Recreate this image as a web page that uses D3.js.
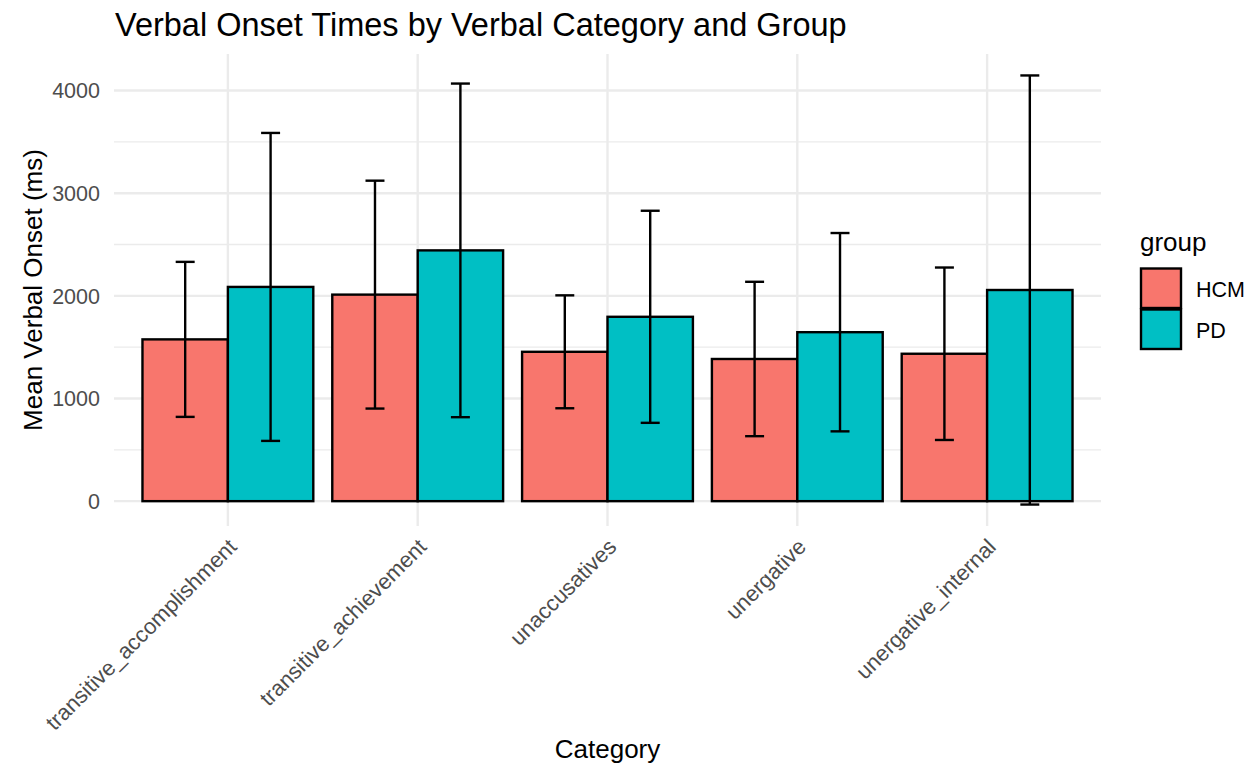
<!DOCTYPE html>
<html>
<head>
<meta charset="utf-8">
<script src="https://cdn.jsdelivr.net/npm/d3@7"></script>
<style>
  html, body { margin: 0; padding: 0; background: #fff; }
  svg { display: block; font-family: "Liberation Sans", Arial, Helvetica, sans-serif; }
</style>
</head>
<body>
<svg id="chart" width="1255" height="763"></svg>
<script>
// Verbal categories on the x axis
const categories = [
  "transitive_accomplishment",
  "transitive_achievement",
  "unaccusatives",
  "unergative",
  "unergative_internal"
];
const groups = ["HCM", "PD"];

// Mean verbal onset (ms) per category
const meanHCM = [1576, 2012, 1455, 1385, 1436];
const meanPD  = [2087, 2443, 1796, 1646, 2057];

// Standard deviation (ms) used for the error bars
const sdHCM = [755, 1110, 550, 752, 840];
const sdPD  = [1500, 1625, 1033, 966, 2090];

const yTicks = [0, 1000, 2000, 3000, 4000];

const colors = { HCM: "#F8766D", PD: "#00BFC4" };

const rows = [];
categories.forEach((c, i) => {
  rows.push({ category: c, group: "HCM", mean: meanHCM[i], sd: sdHCM[i] });
  rows.push({ category: c, group: "PD", mean: meanPD[i], sd: sdPD[i] });
});

const svg = d3.select("#chart");
const panel = { left: 114, right: 1101, top: 54, bottom: 526 };

// Discrete x positions with 0.6 units of padding on each side
const x = d3.scalePoint()
  .domain(categories)
  .range([panel.left, panel.right])
  .padding(0.6);
const step = x.step();
const center = c => x(c);

// Bars dodged within 0.9 of a category step
const dodgeWidth = 0.9 * step;
const xg = d3.scaleBand().domain(groups).range([-dodgeWidth / 2, dodgeWidth / 2]).padding(0);

const lo = d3.min(rows, d => d.mean - d.sd);
const hi = d3.max(rows, d => d.mean + d.sd);
const yMin = Math.min(0, lo), yMax = hi;
const pad = (yMax - yMin) * 0.05;
const y = d3.scaleLinear().domain([yMin - pad, yMax + pad]).range([panel.bottom, panel.top]);

// Grid lines
const grid = svg.append("g");
const minorTicks = d3.range(500, yMax + pad, 1000).filter(v => v > yMin - pad);
grid.selectAll("line.minor").data(minorTicks).join("line")
  .attr("x1", panel.left).attr("x2", panel.right)
  .attr("y1", d => y(d)).attr("y2", d => y(d))
  .attr("stroke", "#EBEBEB").attr("stroke-width", 1.3);
grid.selectAll("line.major").data(yTicks).join("line")
  .attr("x1", panel.left).attr("x2", panel.right)
  .attr("y1", d => y(d)).attr("y2", d => y(d))
  .attr("stroke", "#EBEBEB").attr("stroke-width", 2.4);
grid.selectAll("line.vmajor").data(categories).join("line")
  .attr("x1", d => center(d)).attr("x2", d => center(d))
  .attr("y1", panel.top).attr("y2", panel.bottom)
  .attr("stroke", "#EBEBEB").attr("stroke-width", 2.4);

// Bars
svg.append("g").selectAll("rect").data(rows).join("rect")
  .attr("x", d => center(d.category) + xg(d.group))
  .attr("width", xg.bandwidth())
  .attr("y", d => y(d.mean))
  .attr("height", d => y(0) - y(d.mean))
  .attr("fill", d => colors[d.group])
  .attr("stroke", "#000").attr("stroke-width", 2.4);

// Error bars (mean ± sd)
const capHalf = 0.05 * step;
const eb = svg.append("g").attr("stroke", "#000").attr("stroke-width", 2.4).attr("fill", "none");
rows.forEach(d => {
  const cx = center(d.category) + xg(d.group) + xg.bandwidth() / 2;
  const y1 = y(d.mean + d.sd), y2 = y(d.mean - d.sd);
  eb.append("line").attr("x1", cx).attr("x2", cx).attr("y1", y1).attr("y2", y2);
  eb.append("line").attr("x1", cx - capHalf).attr("x2", cx + capHalf).attr("y1", y1).attr("y2", y1);
  eb.append("line").attr("x1", cx - capHalf).attr("x2", cx + capHalf).attr("y1", y2).attr("y2", y2);
});

// Y axis labels
svg.append("g").selectAll("text").data(yTicks).join("text")
  .attr("x", 100).attr("y", d => y(d)).attr("dy", "0.36em")
  .attr("text-anchor", "end").attr("font-size", 21.5).attr("fill", "#4D4D4D")
  .text(d => d);

// X axis labels, rotated 45 degrees
svg.append("g").selectAll("text").data(categories).join("text")
  .attr("transform", d => `translate(${center(d) - 1},${537}) rotate(-45)`)
  .attr("text-anchor", "end").attr("dy", "0.72em")
  .attr("font-size", 22).attr("fill", "#4D4D4D")
  .text(d => d);

// Axis titles
svg.append("text").attr("x", (panel.left + panel.right) / 2).attr("y", 758)
  .attr("text-anchor", "middle").attr("font-size", 26).attr("fill", "#000")
  .text("Category");
svg.append("text")
  .attr("transform", `translate(42,${(panel.top + panel.bottom) / 2}) rotate(-90)`)
  .attr("text-anchor", "middle").attr("font-size", 26).attr("fill", "#000")
  .text("Mean Verbal Onset (ms)");

// Title
svg.append("text").attr("x", 115).attr("y", 36)
  .attr("font-size", 32.5).attr("fill", "#000")
  .text("Verbal Onset Times by Verbal Category and Group");

// Legend
const legend = svg.append("g");
legend.append("text").attr("x", 1140).attr("y", 251).attr("font-size", 26).attr("fill", "#000").text("group");
const keyH = 41;
groups.forEach((g, i) => {
  const ky = 268.5 + i * keyH;
  legend.append("rect").attr("x", 1141).attr("y", ky).attr("width", 40).attr("height", keyH - 1.5)
    .attr("fill", colors[g]).attr("stroke", "#000").attr("stroke-width", 2.4);
  legend.append("text").attr("x", 1196).attr("y", ky + keyH / 2).attr("dy", "0.36em")
    .attr("font-size", 21.5).attr("fill", "#000").text(g);
});
</script>
</body>
</html>
